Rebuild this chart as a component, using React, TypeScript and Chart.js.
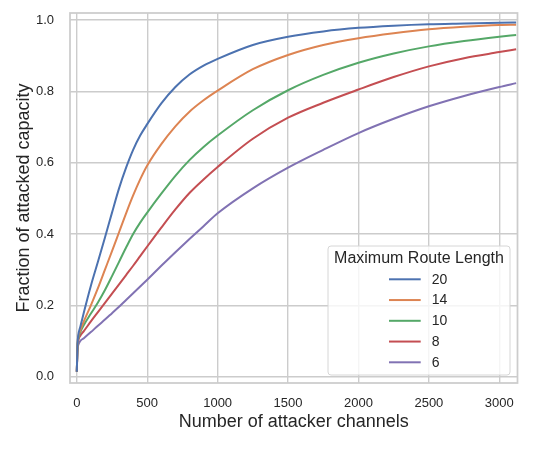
import React, { useEffect, useRef } from "react";
import { Chart, registerables } from "chart.js";

Chart.register(...registerables);

const xValues = [0, 5, 10, 25, 50, 100, 150, 200, 250, 300, 350, 400, 450, 500, 600, 700, 800, 900, 1000, 1250, 1500, 1750, 2000, 2250, 2500, 2750, 3000, 3120];

const series20 = [0.014, 0.09, 0.115, 0.14, 0.18, 0.255, 0.322, 0.39, 0.46, 0.528, 0.586, 0.636, 0.676, 0.708, 0.766, 0.812, 0.847, 0.872, 0.891, 0.93, 0.953, 0.968, 0.978, 0.984, 0.988, 0.99, 0.992, 0.993];
const series14 = [0.014, 0.088, 0.11, 0.13, 0.155, 0.2, 0.248, 0.3, 0.352, 0.405, 0.458, 0.508, 0.553, 0.592, 0.652, 0.702, 0.743, 0.775, 0.802, 0.862, 0.902, 0.93, 0.949, 0.963, 0.974, 0.981, 0.986, 0.987];
const series10 = [0.014, 0.085, 0.105, 0.125, 0.145, 0.177, 0.208, 0.243, 0.282, 0.322, 0.362, 0.4, 0.432, 0.46, 0.513, 0.563, 0.607, 0.644, 0.676, 0.747, 0.803, 0.846, 0.88, 0.906, 0.926, 0.941, 0.953, 0.958];
const series8 = [0.014, 0.082, 0.1, 0.115, 0.128, 0.155, 0.181, 0.207, 0.233, 0.259, 0.285, 0.311, 0.338, 0.365, 0.418, 0.469, 0.515, 0.553, 0.588, 0.667, 0.726, 0.768, 0.805, 0.84, 0.87, 0.893, 0.91, 0.918];
const series6 = [0.014, 0.075, 0.088, 0.1, 0.108, 0.125, 0.143, 0.16, 0.178, 0.196, 0.215, 0.234, 0.253, 0.272, 0.311, 0.349, 0.386, 0.422, 0.458, 0.528, 0.586, 0.636, 0.683, 0.723, 0.758, 0.787, 0.812, 0.823];

const seriesLabels = ["20", "14", "10", "8", "6"];
const seriesData = [series20, series14, series10, series8, series6];
const seriesColors = ["#4c72b0", "#dd8452", "#55a868", "#c44e52", "#8172b3"];

const xTicks = [0, 500, 1000, 1500, 2000, 2500, 3000];
const yTicks = [0, 0.2, 0.4, 0.6, 0.8, 1.0];
const yTickLabels = ["0.0", "0.2", "0.4", "0.6", "0.8", "1.0"];

const legendTitle = "Maximum Route Length";
const xTitle = "Number of attacker channels";
const yTitle = "Fraction of attacked capacity";

const FONT = "'Liberation Sans', Arial, sans-serif";
const TEXT = "#262626";
const GRID = "#cccccc";

const framePlugin = {
  id: "frame",
  afterDatasetsDraw(chart: any) {
    const { ctx, chartArea: a } = chart;
    ctx.save();
    ctx.strokeStyle = GRID;
    ctx.lineWidth = 1.75;
    ctx.strokeRect(a.left, a.top, a.right - a.left, a.bottom - a.top);
    ctx.restore();
  },
};

const legendPlugin = {
  id: "innerLegend",
  afterDraw(chart: any) {
    const { ctx, chartArea: a } = chart;
    const w = 182;
    const h = 129;
    const x = a.right - 7.5 - w;
    const y = a.bottom - 8 - h;
    ctx.save();
    ctx.beginPath();
    ctx.roundRect(x, y, w, h, 3);
    ctx.fillStyle = "rgba(255,255,255,0.8)";
    ctx.fill();
    ctx.strokeStyle = "#d6d6d6";
    ctx.lineWidth = 1;
    ctx.stroke();
    ctx.fillStyle = TEXT;
    ctx.font = `16px ${FONT}`;
    ctx.textAlign = "center";
    ctx.textBaseline = "middle";
    ctx.fillText(legendTitle, x + w / 2, y + 12.5);
    ctx.font = `14px ${FONT}`;
    ctx.textAlign = "left";
    chart.data.datasets.forEach((ds: any, i: number) => {
      const ry = y + 33.3 + i * 20.75;
      ctx.strokeStyle = ds.borderColor;
      ctx.lineWidth = 2;
      ctx.beginPath();
      ctx.moveTo(x + 61, ry);
      ctx.lineTo(x + 92.7, ry);
      ctx.stroke();
      ctx.fillStyle = TEXT;
      ctx.fillText(ds.label, x + 103.7, ry + 0.5);
    });
    ctx.restore();
  },
};

export default function App() {
  const ref = useRef<HTMLCanvasElement | null>(null);
  useEffect(() => {
    document.body.style.margin = "0";
    const canvas = ref.current;
    if (!canvas) return;
    const chart = new Chart(canvas, {
      type: "line",
      data: {
        datasets: seriesData.map((vals, i) => ({
          label: seriesLabels[i],
          data: xValues.map((x, j) => ({ x, y: vals[j] })),
          borderColor: seriesColors[i],
          backgroundColor: seriesColors[i],
          borderWidth: 2,
          pointRadius: 0,
          cubicInterpolationMode: "monotone" as const,
          fill: false,
        })),
      },
      options: {
        animation: false,
        responsive: false,
        events: [],
        layout: { padding: { top: 13, right: 23.5, left: 0, bottom: 0 } },
        plugins: { legend: { display: false }, tooltip: { enabled: false } },
        scales: {
          x: {
            type: "linear",
            min: -48.3,
            max: 3129.3,
            afterBuildTicks: (s: any) => {
              s.ticks = xTicks.map((v) => ({ value: v }));
            },
            afterFit: (s: any) => {
              s.height = 67;
              s.paddingLeft = 0;
              s.paddingRight = 0;
            },
            grid: { color: GRID, lineWidth: 1.4, drawTicks: false },
            border: { display: false },
            ticks: {
              padding: 13,
              color: TEXT,
              font: { family: FONT, size: 13 },
              maxRotation: 0,
              callback: (v: any) => String(v),
            },
            title: {
              display: true,
              text: xTitle,
              color: TEXT,
              font: { family: FONT, size: 18 },
              padding: { top: 0, bottom: 17.5 },
            },
          },
          y: {
            type: "linear",
            min: -0.0177,
            max: 1.0196,
            afterBuildTicks: (s: any) => {
              s.ticks = yTicks.map((v) => ({ value: v }));
            },
            afterFit: (s: any) => {
              s.width = 70;
              s.paddingTop = 0;
              s.paddingBottom = 0;
            },
            grid: { color: GRID, lineWidth: 1.4, drawTicks: false },
            border: { display: false },
            ticks: {
              padding: 16,
              color: TEXT,
              font: { family: FONT, size: 13 },
              callback: (v: any) => {
                const idx = yTicks.findIndex((t) => Math.abs(t - v) < 1e-9);
                return idx >= 0 ? yTickLabels[idx] : "";
              },
            },
            title: {
              display: true,
              text: yTitle,
              color: TEXT,
              font: { family: FONT, size: 18 },
              padding: { top: 13.5, bottom: 0 },
            },
          },
        },
      },
      plugins: [framePlugin, legendPlugin],
    });
    return () => chart.destroy();
  }, []);
  return (
    <div style={{ width: 541, height: 450, background: "#fff" }}>
      <canvas ref={ref} width={541} height={450} style={{ display: "block" }} />
    </div>
  );
}
